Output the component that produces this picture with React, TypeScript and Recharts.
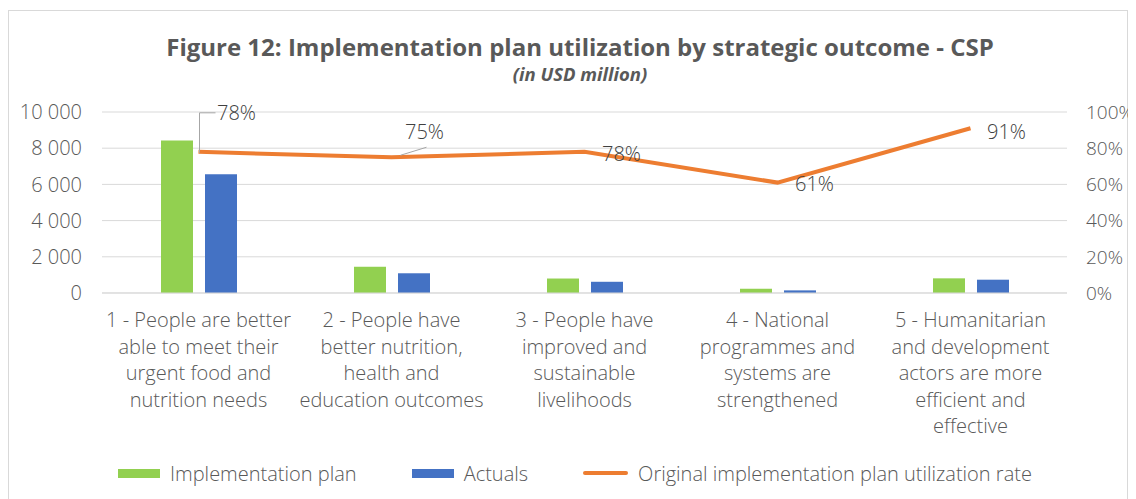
import React from "react";
import {
  ComposedChart,
  Bar,
  Line,
  XAxis,
  YAxis,
  CartesianGrid,
  Legend,
  LabelList,
} from "recharts";

const outcomes = [
  "1 - People are better\nable to meet their\nurgent food and\nnutrition needs",
  "2 - People have\nbetter nutrition,\nhealth and\neducation outcomes",
  "3 - People have\nimproved and\nsustainable\nlivelihoods",
  "4 - National\nprogrammes and\nsystems are\nstrengthened",
  "5 - Humanitarian\nand development\nactors are more\nefficient and\neffective",
];
const implementationPlan = [8420, 1450, 800, 235, 810];
const actuals = [6560, 1090, 620, 145, 735];
const utilizationRate = [0.78, 0.75, 0.78, 0.61, 0.91];

const leftTicks = [0, 2000, 4000, 6000, 8000, 10000];
const rightTicks = [0, 0.2, 0.4, 0.6, 0.8, 1];

const data = outcomes.map((name, i) => ({
  name,
  plan: implementationPlan[i],
  actual: actuals[i],
  rate: utilizationRate[i],
}));

// where each rate label sits relative to its point
const labelOffsets = [
  [38, -39],
  [33, -26],
  [37, 2],
  [37, 1],
  [36, 3],
];

const GREEN = "#92D050";
const BLUE = "#4472C4";
const ORANGE = "#ED7D31";
const TEXT = "#595959";
const FONT = "'Open Sans', sans-serif";

const fmtThousands = (v: number) =>
  String(v).replace(/\B(?=(\d{3})+(?!\d))/g, " ");

function OutcomeTick(props: any) {
  const { x, y, payload } = props;
  const lines = String(payload.value).split("\n");
  return (
    <text
      x={x}
      y={y + 26}
      textAnchor="middle"
      fill={TEXT}
      fontSize={20}
      fontWeight={300}
      fontFamily={FONT}
    >
      {lines.map((l, i) => (
        <tspan key={i} x={x} dy={i === 0 ? 0 : 26.5}>
          {l}
        </tspan>
      ))}
    </text>
  );
}

function RateLabel(props: any) {
  const { x, y, value, index } = props;
  const [dx, dy] = labelOffsets[index] || [0, -10];
  return (
    <g>
      {index === 0 && (
        <polyline
          points={`${x + 1},${y + 1} ${x + 1},${y - 39} ${x + 17},${y - 39}`}
          fill="none"
          stroke="#a6a6a6"
          strokeWidth={1}
        />
      )}
      {index === 1 && (
        <line
          x1={x + 9}
          y1={y - 2}
          x2={x + 35}
          y2={y - 10}
          stroke="#a6a6a6"
          strokeWidth={1}
        />
      )}
      <text
        x={x + dx}
        y={y + dy}
        textAnchor="middle"
        dominantBaseline="central"
        fill="#404040"
        fontSize={20}
        fontWeight={300}
        fontFamily={FONT}
      >
        {Math.round(value * 100)}%
      </text>
    </g>
  );
}

function LegendBox() {
  const item = { display: "flex", alignItems: "center", gap: 10 } as const;
  return (
    <div
      style={{
        display: "flex",
        alignItems: "center",
        height: 56,
        paddingLeft: 109,
        gap: 55,
        fontFamily: FONT,
        fontSize: 20,
        fontWeight: 300,
        color: TEXT,
      }}
    >
      <div style={item}>
        <span style={{ width: 42, height: 9, background: GREEN }} />
        Implementation plan
      </div>
      <div style={item}>
        <span style={{ width: 42, height: 9, background: BLUE }} />
        Actuals
      </div>
      <div style={item}>
        <span
          style={{ width: 45, height: 4, background: ORANGE, borderRadius: 2 }}
        />
        Original implementation plan utilization rate
      </div>
    </div>
  );
}

export default function App() {
  return (
    <div
      style={{
        position: "relative",
        marginTop: 2,
        width: 1118,
        height: 495,
        border: "1px solid #d9d9d9",
        background: "#fff",
        fontFamily: FONT,
      }}
    >
      <div
        style={{
          position: "absolute",
          top: 19,
          left: 0,
          width: 1142,
          textAlign: "center",
          fontSize: 24,
          lineHeight: "33px",
          fontWeight: 700,
          color: TEXT,
        }}
      >
        Figure 12: Implementation plan utilization by strategic outcome - CSP
      </div>
      <div
        style={{
          position: "absolute",
          top: 50,
          left: 0,
          width: 1142,
          textAlign: "center",
          fontSize: 18.5,
          lineHeight: "25px",
          fontWeight: 700,
          fontStyle: "italic",
          color: TEXT,
        }}
      >
        (in USD million)
      </div>
      <ComposedChart
        width={1127}
        height={490}
        data={data}
        margin={{ top: 101, right: 0, bottom: 0, left: 0 }}
        barSize={32}
        barGap={12}
        style={{ overflow: "visible" }}
      >
        <CartesianGrid vertical={false} stroke="#d9d9d9" yAxisId="left" />
        <XAxis
          dataKey="name"
          axisLine={{ stroke: "#d9d9d9" }}
          tickLine={false}
          tick={<OutcomeTick />}
          interval={0}
          height={152}
        />
        <YAxis
          yAxisId="left"
          width={93}
          domain={[0, 10000]}
          ticks={leftTicks}
          tickFormatter={fmtThousands}
          axisLine={false}
          tickLine={false}
          tickMargin={14}
          tick={{ fill: TEXT, fontSize: 20, fontWeight: 300, fontFamily: FONT }}
        />
        <YAxis
          yAxisId="right"
          orientation="right"
          width={69}
          domain={[0, 1]}
          ticks={rightTicks}
          tickFormatter={(v: number) => `${Math.round(v * 100)}%`}
          axisLine={false}
          tickLine={false}
          tickMargin={13}
          tick={{ fill: TEXT, fontSize: 19, fontWeight: 300, fontFamily: FONT }}
        />
        <Legend
          verticalAlign="bottom"
          content={<LegendBox />}
          wrapperStyle={{ left: 0, width: 1118 }}
        />
        <Bar
          yAxisId="left"
          dataKey="plan"
          name="Implementation plan"
          fill={GREEN}
          isAnimationActive={false}
        />
        <Bar
          yAxisId="left"
          dataKey="actual"
          name="Actuals"
          fill={BLUE}
          isAnimationActive={false}
        />
        <Line
          yAxisId="right"
          dataKey="rate"
          name="Original implementation plan utilization rate"
          stroke={ORANGE}
          strokeWidth={4}
          dot={false}
          activeDot={false}
          isAnimationActive={false}
        >
          <LabelList dataKey="rate" content={<RateLabel />} />
        </Line>
      </ComposedChart>
    </div>
  );
}
